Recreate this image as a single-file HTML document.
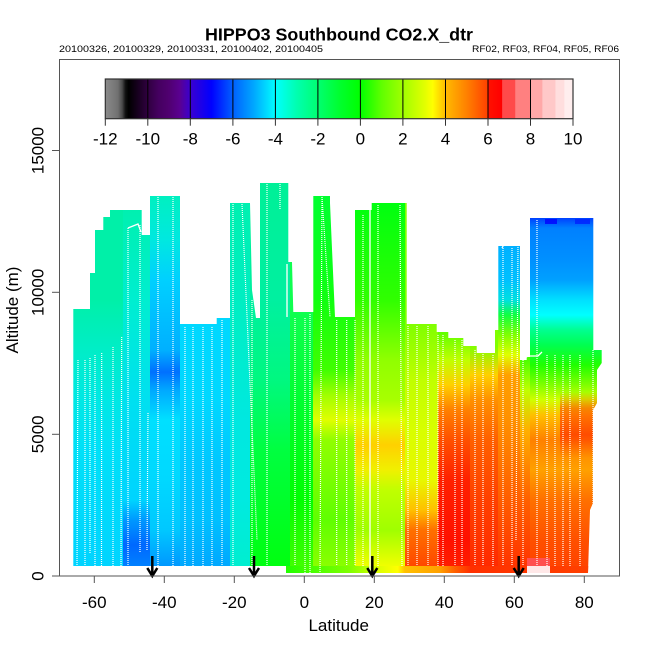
<!DOCTYPE html>
<html><head><meta charset="utf-8"><style>
html,body{margin:0;padding:0;background:#fff;}
svg{display:block;font-family:"Liberation Sans",Arial,sans-serif;}
</style></head><body>
<svg width="650" height="650" viewBox="0 0 650 650" xmlns="http://www.w3.org/2000/svg">
<defs>
<linearGradient id="cb" gradientUnits="userSpaceOnUse" x1="105.3" y1="0" x2="573" y2="0">
<stop offset="0" stop-color="#8a8a8a"/><stop offset="0.0136" stop-color="#7e7e7e"/><stop offset="0.027" stop-color="#707070"/>
<stop offset="0.036" stop-color="#4a4a4a"/><stop offset="0.043" stop-color="#111"/><stop offset="0.05" stop-color="#000"/>
<stop offset="0.0909" stop-color="#300040"/><stop offset="0.114" stop-color="#450060"/><stop offset="0.136" stop-color="#500070"/>
<stop offset="0.159" stop-color="#5a0090"/><stop offset="0.182" stop-color="#3a00d0"/><stop offset="0.227" stop-color="#0000ff"/>
<stop offset="0.273" stop-color="#0060ff"/><stop offset="0.318" stop-color="#00a8ff"/><stop offset="0.364" stop-color="#00ffff"/>
<stop offset="0.409" stop-color="#00ffb0"/><stop offset="0.455" stop-color="#00ff70"/><stop offset="0.5" stop-color="#00ff30"/>
<stop offset="0.545" stop-color="#00ff00"/><stop offset="0.591" stop-color="#60ff00"/><stop offset="0.636" stop-color="#a0ff00"/>
<stop offset="0.682" stop-color="#e0ff00"/><stop offset="0.7" stop-color="#ffff00"/><stop offset="0.727" stop-color="#ffbb00"/>
<stop offset="0.773" stop-color="#ff8000"/><stop offset="0.818" stop-color="#ff4000"/><stop offset="0.82" stop-color="#ff1000"/>
<stop offset="0.848" stop-color="#ff0000"/><stop offset="0.849" stop-color="#ff4a4a"/><stop offset="0.876" stop-color="#ff4a4a"/>
<stop offset="0.877" stop-color="#ff8080"/><stop offset="0.908" stop-color="#ff8080"/><stop offset="0.909" stop-color="#ffa8a8"/>
<stop offset="0.934" stop-color="#ffa8a8"/><stop offset="0.935" stop-color="#ffc8c8"/><stop offset="0.962" stop-color="#ffc8c8"/>
<stop offset="0.963" stop-color="#ffdede"/><stop offset="0.981" stop-color="#ffdede"/><stop offset="0.982" stop-color="#ffeeee"/>
<stop offset="1" stop-color="#ffeeee"/>
</linearGradient>
<linearGradient id="gA" gradientUnits="userSpaceOnUse" x1="0" y1="0" x2="0" y2="1000">
<stop offset="0.21" stop-color="#00f0a8"/><stop offset="0.30" stop-color="#00f0a8"/><stop offset="0.345" stop-color="#00eec4"/>
<stop offset="0.40" stop-color="#00e8e4"/><stop offset="0.45" stop-color="#00e0f8"/><stop offset="0.566" stop-color="#00d4ff"/>
</linearGradient>
<linearGradient id="gB" gradientUnits="userSpaceOnUse" x1="0" y1="0" x2="0" y2="1000">
<stop offset="0.21" stop-color="#00f0b0"/><stop offset="0.30" stop-color="#00eed0"/><stop offset="0.40" stop-color="#00e0f0"/>
<stop offset="0.50" stop-color="#00d4ff"/><stop offset="0.52" stop-color="#0098ff"/><stop offset="0.545" stop-color="#0068ff"/>
<stop offset="0.566" stop-color="#0080ff"/>
</linearGradient>
<linearGradient id="gC" gradientUnits="userSpaceOnUse" x1="0" y1="0" x2="0" y2="1000">
<stop offset="0.196" stop-color="#00f0c0"/><stop offset="0.24" stop-color="#00e8e0"/><stop offset="0.28" stop-color="#00d0ff"/>
<stop offset="0.35" stop-color="#00b0ff"/><stop offset="0.372" stop-color="#0070ff"/><stop offset="0.39" stop-color="#00a8ff"/>
<stop offset="0.42" stop-color="#00e0ff"/><stop offset="0.48" stop-color="#00d8ff"/><stop offset="0.53" stop-color="#00c8ff"/>
<stop offset="0.566" stop-color="#0098ff"/>
</linearGradient>
<linearGradient id="gD" gradientUnits="userSpaceOnUse" x1="0" y1="0" x2="0" y2="1000">
<stop offset="0.324" stop-color="#00d8ff"/><stop offset="0.40" stop-color="#00d8ff"/><stop offset="0.46" stop-color="#00c8ff"/>
<stop offset="0.52" stop-color="#00c0ff"/><stop offset="0.566" stop-color="#00a8ff"/>
</linearGradient>
<linearGradient id="gE" gradientUnits="userSpaceOnUse" x1="0" y1="0" x2="0" y2="1000">
<stop offset="0.203" stop-color="#00f0b0"/><stop offset="0.33" stop-color="#00eec8"/><stop offset="0.42" stop-color="#00e8e0"/>
<stop offset="0.50" stop-color="#00eae0"/><stop offset="0.566" stop-color="#00eed0"/>
</linearGradient>
<linearGradient id="gF" gradientUnits="userSpaceOnUse" x1="0" y1="0" x2="0" y2="1000">
<stop offset="0.183" stop-color="#00f098"/><stop offset="0.30" stop-color="#00f0a0"/><stop offset="0.38" stop-color="#00f880"/>
<stop offset="0.45" stop-color="#00ff40"/><stop offset="0.566" stop-color="#00ff10"/>
</linearGradient>
<linearGradient id="gG" gradientUnits="userSpaceOnUse" x1="0" y1="0" x2="0" y2="1000">
<stop offset="0.312" stop-color="#10ff50"/><stop offset="0.40" stop-color="#00ff30"/><stop offset="0.50" stop-color="#00ff00"/>
<stop offset="0.566" stop-color="#40ff00"/><stop offset="0.573" stop-color="#60ff00"/>
</linearGradient>
<linearGradient id="gH" gradientUnits="userSpaceOnUse" x1="0" y1="0" x2="0" y2="1000">
<stop offset="0.196" stop-color="#00ff30"/><stop offset="0.30" stop-color="#10ff10"/><stop offset="0.37" stop-color="#40ff00"/>
<stop offset="0.395" stop-color="#a0ff00"/><stop offset="0.42" stop-color="#e0ff00"/><stop offset="0.44" stop-color="#90ff00"/>
<stop offset="0.52" stop-color="#60ff00"/><stop offset="0.573" stop-color="#90ff00"/>
</linearGradient>
<linearGradient id="gI" gradientUnits="userSpaceOnUse" x1="0" y1="0" x2="0" y2="1000">
<stop offset="0.203" stop-color="#00ff10"/><stop offset="0.30" stop-color="#30ff00"/><stop offset="0.36" stop-color="#90ff00"/>
<stop offset="0.40" stop-color="#a8ff00"/><stop offset="0.42" stop-color="#e0ff00"/><stop offset="0.445" stop-color="#ffd000"/>
<stop offset="0.47" stop-color="#f0f000"/><stop offset="0.49" stop-color="#c0ff00"/><stop offset="0.53" stop-color="#a0ff00"/>
<stop offset="0.555" stop-color="#d8ff00"/><stop offset="0.573" stop-color="#ffff00"/>
</linearGradient>
<linearGradient id="gJ" gradientUnits="userSpaceOnUse" x1="0" y1="0" x2="0" y2="1000">
<stop offset="0.324" stop-color="#80ff00"/><stop offset="0.38" stop-color="#c0ff00"/><stop offset="0.43" stop-color="#d8ff00"/>
<stop offset="0.48" stop-color="#e8f800"/><stop offset="0.51" stop-color="#ffc000"/><stop offset="0.53" stop-color="#ff7000"/>
<stop offset="0.573" stop-color="#ff4000"/>
</linearGradient>
<linearGradient id="gK" gradientUnits="userSpaceOnUse" x1="0" y1="0" x2="0" y2="1000">
<stop offset="0.332" stop-color="#60ff00"/><stop offset="0.36" stop-color="#c0ff00"/><stop offset="0.385" stop-color="#ffd000"/>
<stop offset="0.41" stop-color="#ff8000"/><stop offset="0.44" stop-color="#ff5000"/><stop offset="0.48" stop-color="#ff2000"/>
<stop offset="0.54" stop-color="#ff1000"/><stop offset="0.573" stop-color="#ff2000"/>
</linearGradient>
<linearGradient id="gL" gradientUnits="userSpaceOnUse" x1="0" y1="0" x2="0" y2="1000">
<stop offset="0.346" stop-color="#80ff00"/><stop offset="0.375" stop-color="#ffd000"/><stop offset="0.40" stop-color="#ff9000"/>
<stop offset="0.44" stop-color="#ff6000"/><stop offset="0.50" stop-color="#ff4000"/><stop offset="0.573" stop-color="#ff2800"/>
</linearGradient>
<linearGradient id="gM" gradientUnits="userSpaceOnUse" x1="0" y1="0" x2="0" y2="1000">
<stop offset="0.246" stop-color="#00b0ff"/><stop offset="0.28" stop-color="#00c0ff"/><stop offset="0.30" stop-color="#00e0e0"/>
<stop offset="0.315" stop-color="#10ff40"/><stop offset="0.335" stop-color="#80ff00"/><stop offset="0.355" stop-color="#e0ff00"/>
<stop offset="0.375" stop-color="#ffa000"/><stop offset="0.42" stop-color="#ff9000"/><stop offset="0.47" stop-color="#ff7000"/>
<stop offset="0.52" stop-color="#ff5000"/><stop offset="0.573" stop-color="#ff3000"/>
</linearGradient>
<linearGradient id="gN" gradientUnits="userSpaceOnUse" x1="0" y1="0" x2="0" y2="1000">
<stop offset="0.357" stop-color="#40ff00"/><stop offset="0.39" stop-color="#c0ff00"/><stop offset="0.43" stop-color="#ffb000"/>
<stop offset="0.50" stop-color="#ff6000"/><stop offset="0.573" stop-color="#ff3000"/>
</linearGradient>
<linearGradient id="gO" gradientUnits="userSpaceOnUse" x1="0" y1="0" x2="0" y2="1000">
<stop offset="0.218" stop-color="#0040ff"/><stop offset="0.228" stop-color="#0080ff"/><stop offset="0.26" stop-color="#0090ff"/>
<stop offset="0.28" stop-color="#00a0ff"/><stop offset="0.30" stop-color="#00e0ff"/><stop offset="0.315" stop-color="#00ffff"/>
<stop offset="0.33" stop-color="#00ff90"/><stop offset="0.345" stop-color="#00ff50"/><stop offset="0.365" stop-color="#20ff00"/>
<stop offset="0.385" stop-color="#80ff00"/><stop offset="0.40" stop-color="#d0ff00"/><stop offset="0.415" stop-color="#ffc000"/>
<stop offset="0.44" stop-color="#ff8000"/><stop offset="0.47" stop-color="#ffa000"/><stop offset="0.50" stop-color="#ff7000"/>
<stop offset="0.54" stop-color="#ff5000"/><stop offset="0.573" stop-color="#ff4000"/>
</linearGradient>
<linearGradient id="gRed" gradientUnits="userSpaceOnUse" x1="0" y1="392" x2="0" y2="458">
<stop offset="0" stop-color="#ff3000" stop-opacity="0"/><stop offset="0.25" stop-color="#ff4000" stop-opacity="0.55"/>
<stop offset="0.65" stop-color="#ff2000" stop-opacity="0.6"/><stop offset="1" stop-color="#ff4000" stop-opacity="0"/>
</linearGradient>
<linearGradient id="gBot" gradientUnits="userSpaceOnUse" x1="285" y1="0" x2="590" y2="0">
<stop offset="0" stop-color="#20ff00"/><stop offset="0.213" stop-color="#80ff00"/><stop offset="0.311" stop-color="#e0ff00"/>
<stop offset="0.370" stop-color="#ffff00"/><stop offset="0.393" stop-color="#ffc000"/><stop offset="0.508" stop-color="#ffa000"/>
<stop offset="0.557" stop-color="#ff6000"/><stop offset="0.607" stop-color="#ff3000"/><stop offset="1" stop-color="#ff4000"/>
</linearGradient>
<clipPath id="clip">
<polygon points="73.3,566 73.3,309 90,309 90,273 95,273 95,230 103.3,230 103.3,217 110,217 110,210 141.7,210 141.7,235 150,235 150,196 180,196 180,324 216.7,324 216.7,318 230,318 230,203 250,203 252,290 256,318 260,318 260,183 288.3,183 288.3,262 292,262 293.3,312 313.3,312 313.3,196 330,196 330,203 335,317 355,317 355,210 371.7,210 371.7,203 406.7,203 406.7,324 436.7,324 436.7,332 448.3,332 448.3,338 463.3,338 463.3,346 476.7,346 476.7,353 495,353 495,330 498.3,330 498.3,246 520,246 520,360 526.7,360 526.7,357 530,357 530,218 593.3,218 593.3,350 601.7,350 601.7,363 597,370 597,403 593,410 593,503 590,510 588,573 286,573 286,566"/>
</clipPath>
</defs>
<rect width="650" height="650" fill="#fff"/>

<!-- data field -->
<g clip-path="url(#clip)">
<rect x="70" y="180" width="53" height="400" fill="url(#gA)"/>
<rect x="123" y="180" width="27" height="400" fill="url(#gB)"/>
<rect x="150" y="180" width="30" height="400" fill="url(#gC)"/>
<rect x="180" y="180" width="50" height="400" fill="url(#gD)"/>
<rect x="230" y="180" width="20" height="400" fill="url(#gE)"/>
<rect x="250" y="180" width="40" height="400" fill="url(#gF)"/>
<rect x="290" y="180" width="23" height="400" fill="url(#gG)"/>
<rect x="313" y="180" width="42" height="400" fill="url(#gH)"/>
<rect x="355" y="180" width="50" height="400" fill="url(#gI)"/>
<rect x="405" y="180" width="33" height="400" fill="url(#gJ)"/>
<rect x="438" y="180" width="32" height="400" fill="url(#gK)"/>
<rect x="470" y="180" width="28" height="400" fill="url(#gL)"/>
<rect x="498" y="180" width="22" height="400" fill="url(#gM)"/>
<rect x="520" y="180" width="10" height="400" fill="url(#gN)"/>
<rect x="530" y="180" width="75" height="400" fill="url(#gO)"/>
<rect x="560" y="392" width="38" height="66" fill="url(#gRed)"/>
<rect x="285" y="566" width="305" height="8" fill="url(#gBot)"/>
<rect x="527" y="558" width="23" height="8" fill="#ff5050"/>
<rect x="527" y="566" width="23" height="8" fill="#ffe8e8"/>
<rect x="545" y="219" width="12" height="5" fill="#0000ff" opacity="0.8"/>
<rect x="575" y="219" width="15" height="5" fill="#0020ff" opacity="0.8"/>
</g>

<!-- white profile lines -->
<g stroke="#fff" stroke-width="1.2" stroke-dasharray="1 1" fill="none">
<line x1="78" y1="360" x2="77" y2="566"/><line x1="85" y1="360" x2="85" y2="566"/>
<line x1="90" y1="358" x2="90" y2="553"/><line x1="95" y1="355" x2="95" y2="566"/>
<line x1="101.7" y1="353" x2="101.5" y2="566"/><line x1="113" y1="347" x2="113" y2="566"/>
<line x1="121.7" y1="337" x2="121" y2="566"/><line x1="128" y1="228" x2="128" y2="566"/>
<line x1="140" y1="225" x2="140" y2="553"/><line x1="148" y1="413" x2="147" y2="550"/>
<line x1="158" y1="197" x2="158" y2="566"/><line x1="173" y1="197" x2="173" y2="566"/>
<line x1="185" y1="327" x2="185" y2="566"/><line x1="193" y1="327" x2="193" y2="566"/>
<line x1="203" y1="327" x2="203" y2="566"/><line x1="212" y1="327" x2="212" y2="566"/>
<line x1="222" y1="320" x2="222" y2="566"/><line x1="233" y1="204" x2="233" y2="566"/>
<line x1="242" y1="204" x2="257" y2="540"/><line x1="252" y1="300" x2="252" y2="566"/>
<line x1="267" y1="184" x2="267" y2="566"/><line x1="280" y1="184" x2="280" y2="210"/>
<line x1="295" y1="318" x2="295" y2="566"/><line x1="305" y1="318" x2="305" y2="573"/>
<line x1="310" y1="314" x2="310" y2="573"/><line x1="322" y1="197" x2="330" y2="317"/>
<line x1="322" y1="197" x2="320" y2="573"/>
<line x1="336.7" y1="320" x2="336.7" y2="566"/><line x1="346.7" y1="320" x2="346.7" y2="566"/>
<line x1="355" y1="320" x2="355" y2="566"/><line x1="363" y1="215" x2="363" y2="566"/>
<line x1="378" y1="205" x2="378" y2="566"/><line x1="400" y1="205" x2="402" y2="566"/>
<line x1="408" y1="326" x2="408" y2="566"/><line x1="417" y1="326" x2="417" y2="566"/>
<line x1="428" y1="326" x2="428" y2="566"/><line x1="438" y1="335" x2="438" y2="566"/>
<line x1="443" y1="335" x2="443" y2="566"/><line x1="455" y1="340" x2="455" y2="566"/>
<line x1="462" y1="340" x2="462" y2="566"/><line x1="475" y1="350" x2="475" y2="566"/>
<line x1="483" y1="350" x2="483" y2="566"/><line x1="493" y1="355" x2="493" y2="566"/>
<line x1="503" y1="248" x2="503" y2="566"/><line x1="512" y1="248" x2="512" y2="566"/>
<line x1="518" y1="245" x2="516" y2="540"/><line x1="523" y1="360" x2="523" y2="566"/>
<line x1="537" y1="220" x2="537" y2="566"/><line x1="547" y1="355" x2="547" y2="566"/>
<line x1="555" y1="355" x2="555" y2="566"/><line x1="563" y1="355" x2="563" y2="566"/>
<line x1="570" y1="355" x2="570" y2="566"/><line x1="580" y1="355" x2="580" y2="566"/>
<line x1="593" y1="350" x2="593" y2="566"/>
</g>
<g stroke="#fff" stroke-width="1.3" fill="none">
<line x1="370" y1="210" x2="370" y2="575"/>
<polyline points="287,264 287,317"/>
<polyline points="128,228 138,224 141,232"/>
<polyline points="502,248 508,237 514,237 516,245"/>
<polyline points="525,358 528,356 538,356 542,352"/>
</g>

<!-- arrows -->
<g stroke="#000" stroke-width="2.5" fill="none">
<path d="M152.3 556 L152.3 575 M147.3 568 L152.3 576 L157.3 568"/>
<path d="M254 556 L254 575 M249 568 L254 576 L259 568"/>
<path d="M372.3 556 L372.3 575 M367.3 568 L372.3 576 L377.3 568"/>
<path d="M518.7 556 L518.7 575 M513.7 568 L518.7 576 L523.7 568"/>
</g>

<!-- frame and axes -->
<rect x="59.5" y="59.5" width="560" height="516.5" fill="none" stroke="#555" stroke-width="1"/>
<g stroke="#555" stroke-width="1">
<line x1="94.3" y1="576" x2="94.3" y2="583"/><line x1="164.3" y1="576" x2="164.3" y2="583"/>
<line x1="234.3" y1="576" x2="234.3" y2="583"/><line x1="304.3" y1="576" x2="304.3" y2="583"/>
<line x1="374.3" y1="576" x2="374.3" y2="583"/><line x1="444.3" y1="576" x2="444.3" y2="583"/>
<line x1="514.3" y1="576" x2="514.3" y2="583"/><line x1="584.3" y1="576" x2="584.3" y2="583"/>
<line x1="52" y1="576" x2="59.5" y2="576"/><line x1="52" y1="434.3" x2="59.5" y2="434.3"/>
<line x1="52" y1="292.3" x2="59.5" y2="292.3"/><line x1="52" y1="150.5" x2="59.5" y2="150.5"/>
</g>
<g font-size="17" fill="#000" text-anchor="middle">
<text x="94.3" y="608">-60</text><text x="164.3" y="608">-40</text><text x="234.3" y="608">-20</text>
<text x="304.3" y="608">0</text><text x="374.3" y="608">20</text><text x="444.3" y="608">40</text>
<text x="514.3" y="608">60</text><text x="584.3" y="608">80</text>
<text transform="translate(43.5,576) rotate(-90)">0</text>
<text transform="translate(43.5,434.3) rotate(-90)">5000</text>
<text transform="translate(43.5,292.3) rotate(-90)">10000</text>
<text transform="translate(43.5,150.5) rotate(-90)">15000</text>
<text x="338.7" y="631">Latitude</text>
<text transform="translate(18,310) rotate(-90)">Altitude (m)</text>
</g>

<!-- colorbar -->
<rect x="105.3" y="79" width="467.7" height="39.7" fill="url(#cb)"/>
<g stroke="#000" stroke-width="1">
<line x1="147.8" y1="79" x2="147.8" y2="118.7"/><line x1="190.3" y1="79" x2="190.3" y2="118.7"/>
<line x1="232.9" y1="79" x2="232.9" y2="118.7"/><line x1="275.4" y1="79" x2="275.4" y2="118.7"/>
<line x1="317.9" y1="79" x2="317.9" y2="118.7"/><line x1="360.4" y1="79" x2="360.4" y2="118.7"/>
<line x1="402.9" y1="79" x2="402.9" y2="118.7"/><line x1="445.5" y1="79" x2="445.5" y2="118.7"/>
<line x1="488" y1="79" x2="488" y2="118.7"/><line x1="530.5" y1="79" x2="530.5" y2="118.7"/>
</g>
<rect x="105.3" y="79" width="467.7" height="39.7" fill="none" stroke="#333" stroke-width="1.2"/>
<g stroke="#333" stroke-width="1">
<line x1="105.3" y1="118.7" x2="105.3" y2="125.7"/><line x1="147.8" y1="118.7" x2="147.8" y2="125.7"/>
<line x1="190.3" y1="118.7" x2="190.3" y2="125.7"/><line x1="232.9" y1="118.7" x2="232.9" y2="125.7"/>
<line x1="275.4" y1="118.7" x2="275.4" y2="125.7"/><line x1="317.9" y1="118.7" x2="317.9" y2="125.7"/>
<line x1="360.4" y1="118.7" x2="360.4" y2="125.7"/><line x1="402.9" y1="118.7" x2="402.9" y2="125.7"/>
<line x1="445.5" y1="118.7" x2="445.5" y2="125.7"/><line x1="488" y1="118.7" x2="488" y2="125.7"/>
<line x1="530.5" y1="118.7" x2="530.5" y2="125.7"/><line x1="573" y1="118.7" x2="573" y2="125.7"/>
</g>
<g font-size="17" fill="#000" text-anchor="middle">
<text x="105.3" y="144.5">-12</text><text x="147.8" y="144.5">-10</text><text x="190.3" y="144.5">-8</text>
<text x="232.9" y="144.5">-6</text><text x="275.4" y="144.5">-4</text><text x="317.9" y="144.5">-2</text>
<text x="360.4" y="144.5">0</text><text x="402.9" y="144.5">2</text><text x="445.5" y="144.5">4</text>
<text x="488" y="144.5">6</text><text x="530.5" y="144.5">8</text><text x="573" y="144.5">10</text>
</g>

<!-- titles -->
<text x="339" y="40.5" font-size="17.5" font-weight="bold" text-anchor="middle" textLength="268" lengthAdjust="spacingAndGlyphs">HIPPO3 Southbound CO2.X_dtr</text>
<text x="59" y="52" font-size="9.5" textLength="264" lengthAdjust="spacingAndGlyphs">20100326, 20100329, 20100331, 20100402, 20100405</text>
<text x="619" y="52" font-size="9.5" text-anchor="end" textLength="147" lengthAdjust="spacingAndGlyphs">RF02, RF03, RF04, RF05, RF06</text>
</svg>
</body></html>
